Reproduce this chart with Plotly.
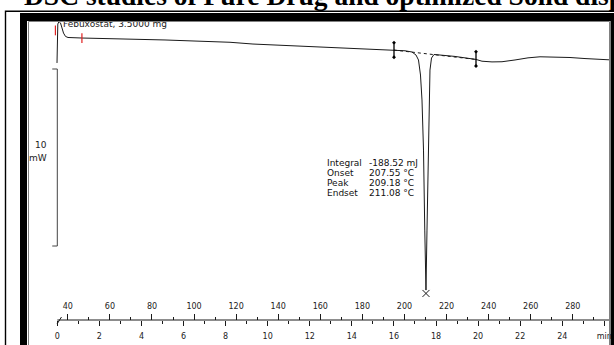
import plotly.graph_objects as go

# ---------------- data ----------------
TEMP_C = [34.86, 35.00, 35.24, 35.81, 36.52, 37.23, 37.95, 38.90, 40.09, 46.74,
          55.29, 61.47, 62.42, 74.31, 86.19, 98.07, 106.15, 117.08, 128.01, 138.47,
          147.97, 158.90, 168.41, 177.92, 186.00, 195.03, 200.26, 203.59, 205.49, 206.67,
          207.62, 208.33, 209.05, 209.66, 210.23, 210.71, 211.18, 211.66, 212.13, 212.85,
          214.04, 216.89, 224.02, 234.00, 236.85, 241.61, 246.36, 252.54, 258.72, 264.42,
          271.55, 278.68, 285.81, 292.94, 298.64]
HEAT_FLOW_MW = [10.34, 11.64, 12.54, 12.68, 12.60, 12.32, 12.03, 11.84, 11.78, 11.75,
                11.73, 11.72, 11.69, 11.68, 11.64, 11.59, 11.55, 11.51, 11.41, 11.36,
                11.30, 11.24, 11.20, 11.16, 11.11, 11.07, 11.03, 10.96, 10.79, 10.51,
                9.66, 8.25, 5.42, 0.90, -2.49, 0.90, 4.86, 8.25, 9.94, 10.62,
                10.82, 10.79, 10.71, 10.54, 10.44, 10.40, 10.41, 10.51, 10.63, 10.69,
                10.69, 10.65, 10.59, 10.55, 10.51]

START_TEMP_C = 35.0          # temperature at t = 0 min
HEATING_RATE = 10.0          # K/min
TIME_TICKS_MIN = [0, 2, 4, 6, 8, 10, 12, 14, 16, 18, 20, 22, 24, 26]
TIME_TICK_LABELS = ["0", "2", "4", "6", "8", "10", "12", "14", "16", "18", "20", "22", "24", "min"]
TEMP_TICKS_C = [40, 60, 80, 100, 120, 140, 160, 180, 200, 220, 240, 260, 280]
TEMP_UNIT_POS_C = 300

SCALE_BAR_MW = [0, 10]
SCALE_BAR_LABEL = ["10", "mW"]
SAMPLE_LABEL = "Febuxostat, 3.5000 mg"
RESULT_NAMES = ["Integral", "Onset", "Peak", "Endset"]
RESULT_VALUES = ["-188.52 mJ", "207.55 °C", "209.18 °C", "211.08 °C"]

LIMITS_C = [195.03, 234.00]
LIMIT_TOP_MW = [11.49, 10.98]
LIMIT_BOTTOM_MW = [10.66, 10.17]
BASELINE_MW = [11.07, 10.54]
PEAK_MARK_C = 210.23
PEAK_MARK_MW = -2.68
RED_MARK_C = [34.1, 46.7]
RED_MARK_MW = [12.18, 11.75]

TITLE = "DSC studies of Pure Drug and optimized Solid dispersion"

# ---------------- geometry (pixels) ----------------
W, H = 614, 345
L, R, T, B = 51, 610, 21, 320
PX_PER_MIN = 21.04
X0_PX = 57.3            # pixel of t = 0
PX_PER_MW = 17.7
ZERO_MW_PX = 246.0

t_min = (L - X0_PX) / PX_PER_MIN
t_max = (R - X0_PX) / PX_PER_MIN
y_lo = (ZERO_MW_PX - B) / PX_PER_MW
y_hi = (ZERO_MW_PX - T) / PX_PER_MW


def xp(px):
    return (px - L) / (R - L)


def yp(py):
    return (B - py) / (B - T)


def ymw(py):
    return (ZERO_MW_PX - py) / PX_PER_MW


INK = "#1a1a1a"
FONT = "DejaVu Sans"

fig = go.Figure()

# main DSC curve (temperature axis)
fig.add_trace(go.Scatter(x=TEMP_C, y=HEAT_FLOW_MW, xaxis="x2", yaxis="y", mode="lines",
                         line=dict(color=INK, width=1), hoverinfo="skip", showlegend=False))

# integration baseline (dotted)
fig.add_trace(go.Scatter(x=LIMITS_C, y=BASELINE_MW, xaxis="x2", yaxis="y", mode="lines",
                         line=dict(color=INK, width=1, dash="dot"), showlegend=False))

# integration limit markers
lim_x, lim_y = [], []
for c, top, bot in zip(LIMITS_C, LIMIT_TOP_MW, LIMIT_BOTTOM_MW):
    lim_x += [c, c, None]
    lim_y += [top, bot, None]
fig.add_trace(go.Scatter(x=lim_x, y=lim_y, xaxis="x2", yaxis="y", mode="lines",
                         line=dict(color="#000", width=1.3), showlegend=False))
fig.add_trace(go.Scatter(x=LIMITS_C + LIMITS_C, y=LIMIT_TOP_MW + LIMIT_BOTTOM_MW,
                         xaxis="x2", yaxis="y", mode="markers",
                         marker=dict(symbol="diamond", size=3, color="#000"), showlegend=False))

# peak cross
fig.add_trace(go.Scatter(x=[PEAK_MARK_C], y=[PEAK_MARK_MW], xaxis="x2", yaxis="y", mode="markers",
                         marker=dict(symbol="x-thin-open", size=7, color=INK, line=dict(color=INK, width=1)),
                         cliponaxis=False, showlegend=False))

# red evaluation marks
fig.add_trace(go.Scatter(x=RED_MARK_C, y=RED_MARK_MW, xaxis="x2", yaxis="y", mode="markers",
                         marker=dict(symbol="line-ns-open", size=7, color="#e02020",
                                     line=dict(color="#e02020", width=1.2)),
                         showlegend=False))

# 10 mW scale bar (time axis, at t = 0)
fig.add_trace(go.Scatter(x=[-0.24, 0, 0, -0.24], y=[SCALE_BAR_MW[1], SCALE_BAR_MW[1], SCALE_BAR_MW[0], SCALE_BAR_MW[0]],
                         xaxis="x", yaxis="y", mode="lines",
                         line=dict(color="#444", width=1), showlegend=False))

# sample name
fig.add_trace(go.Scatter(x=[START_TEMP_C + 2.7], y=[ymw(24.5)], xaxis="x2", yaxis="y", mode="text",
                         text=[SAMPLE_LABEL], textposition="middle right",
                         textfont=dict(family=FONT, size=9, color="#222"),
                         cliponaxis=False, showlegend=False))

# unit label of the temperature axis (beyond the plot edge, hidden by the frame)
fig.add_trace(go.Scatter(x=[TEMP_UNIT_POS_C], y=[ymw(305)], xaxis="x2", yaxis="y", mode="text",
                         text=["°C"], textposition="middle center",
                         textfont=dict(family=FONT, size=8, color="#222"),
                         cliponaxis=False, showlegend=False))

annotations = []
# scale bar labels
for txt, py in zip(SCALE_BAR_LABEL, [145, 158]):
    annotations.append(dict(text=txt, xref="paper", yref="paper", x=xp(49), y=yp(py),
                            xanchor="right", yanchor="middle", showarrow=False,
                            font=dict(family=FONT, size=9, color="#222")))
# evaluation results
for i, (n, v) in enumerate(zip(RESULT_NAMES, RESULT_VALUES)):
    py = 163 + 10 * i
    annotations.append(dict(text=n, xref="paper", yref="paper", x=xp(325), y=yp(py),
                            xanchor="left", yanchor="middle", showarrow=False,
                            font=dict(family=FONT, size=9, color="#111")))
    annotations.append(dict(text=v, xref="paper", yref="paper", x=xp(367), y=yp(py),
                            xanchor="left", yanchor="middle", showarrow=False,
                            font=dict(family=FONT, size=9, color="#111")))
# page title (partly cut off at the top edge)
annotations.append(dict(text="<b>" + TITLE + "</b>", xref="paper", yref="paper", x=xp(22), y=yp(13.5),
                        xanchor="left", yanchor="bottom", showarrow=False,
                        font=dict(family="Liberation Serif", size=27.5, color="#000")))

shapes = []
# x axis line with break mark
shapes.append(dict(type="line", xref="paper", yref="paper", x0=xp(X0_PX), x1=1.0, y0=0, y1=0,
                   line=dict(color=INK, width=1), layer="above"))
shapes.append(dict(type="line", xref="paper", yref="paper", x0=xp(57), x1=xp(61.5), y0=yp(324), y1=yp(317),
                   line=dict(color=INK, width=1), layer="above"))
# frame: thin outer line
shapes.append(dict(type="path", xref="paper", yref="paper",
                   path=f"M {xp(5.5)},{yp(346)} L {xp(5.5)},{yp(11.3)} L {xp(615)},{yp(11.3)}",
                   line=dict(color="#000", width=1.4), layer="above"))
# frame: thick black band
for x0, y0, x1, y1 in [(20, 13, 615, 21), (20, 13, 27, 346), (610.5, 13, 615, 346)]:
    shapes.append(dict(type="rect", xref="paper", yref="paper", x0=xp(x0), x1=xp(x1), y0=yp(y1), y1=yp(y0),
                       fillcolor="#000", line=dict(width=0), layer="above"))
# frame: inner thin lines
shapes.append(dict(type="path", xref="paper", yref="paper",
                   path=f"M {xp(28.5)},{yp(346)} L {xp(28.5)},{yp(21.5)} L {xp(609.5)},{yp(21.5)} L {xp(609.5)},{yp(346)}",
                   line=dict(color="#808080", width=1), layer="above"))

tick_font = dict(family=FONT, size=8, color="#222")

fig.update_layout(
    width=W, height=H,
    margin=dict(l=L, r=W - R, t=T, b=H - B, pad=0, autoexpand=False),
    paper_bgcolor="white", plot_bgcolor="white",
    showlegend=False,
    hovermode=False,
    xaxis=dict(range=[t_min, t_max], tickmode="array", tickvals=TIME_TICKS_MIN, ticktext=TIME_TICK_LABELS,
               ticks="outside", ticklen=5, tickwidth=1, tickcolor=INK, tickfont=tick_font,
               showline=False, showgrid=False, zeroline=False, ticklabelstandoff=3, automargin=False,
               minor=dict(tickmode="linear", tick0=0, dtick=1, ticks="outside", ticklen=3,
                          tickwidth=1, tickcolor=INK, showgrid=False)),
    xaxis2=dict(range=[START_TEMP_C + HEATING_RATE * t_min, START_TEMP_C + HEATING_RATE * t_max],
                overlaying="x", side="top", anchor="free", position=0,
                tickmode="array", tickvals=TEMP_TICKS_C,
                ticks="outside", ticklen=6, tickwidth=1, tickcolor=INK, tickfont=tick_font,
                showline=False, showgrid=False, zeroline=False, ticklabelstandoff=2, automargin=False,
                minor=dict(tickmode="linear", tick0=0, dtick=10, ticks="outside", ticklen=3,
                           tickwidth=1, tickcolor=INK, showgrid=False)),
    yaxis=dict(range=[y_lo, y_hi], visible=False, showgrid=False, zeroline=False, automargin=False),
    annotations=annotations,
    shapes=shapes,
)

fig.write_html("out.html",
               config={"displayModeBar": False, "staticPlot": True},
               post_script="document.body.style.margin='0';document.body.style.overflow='hidden';")
